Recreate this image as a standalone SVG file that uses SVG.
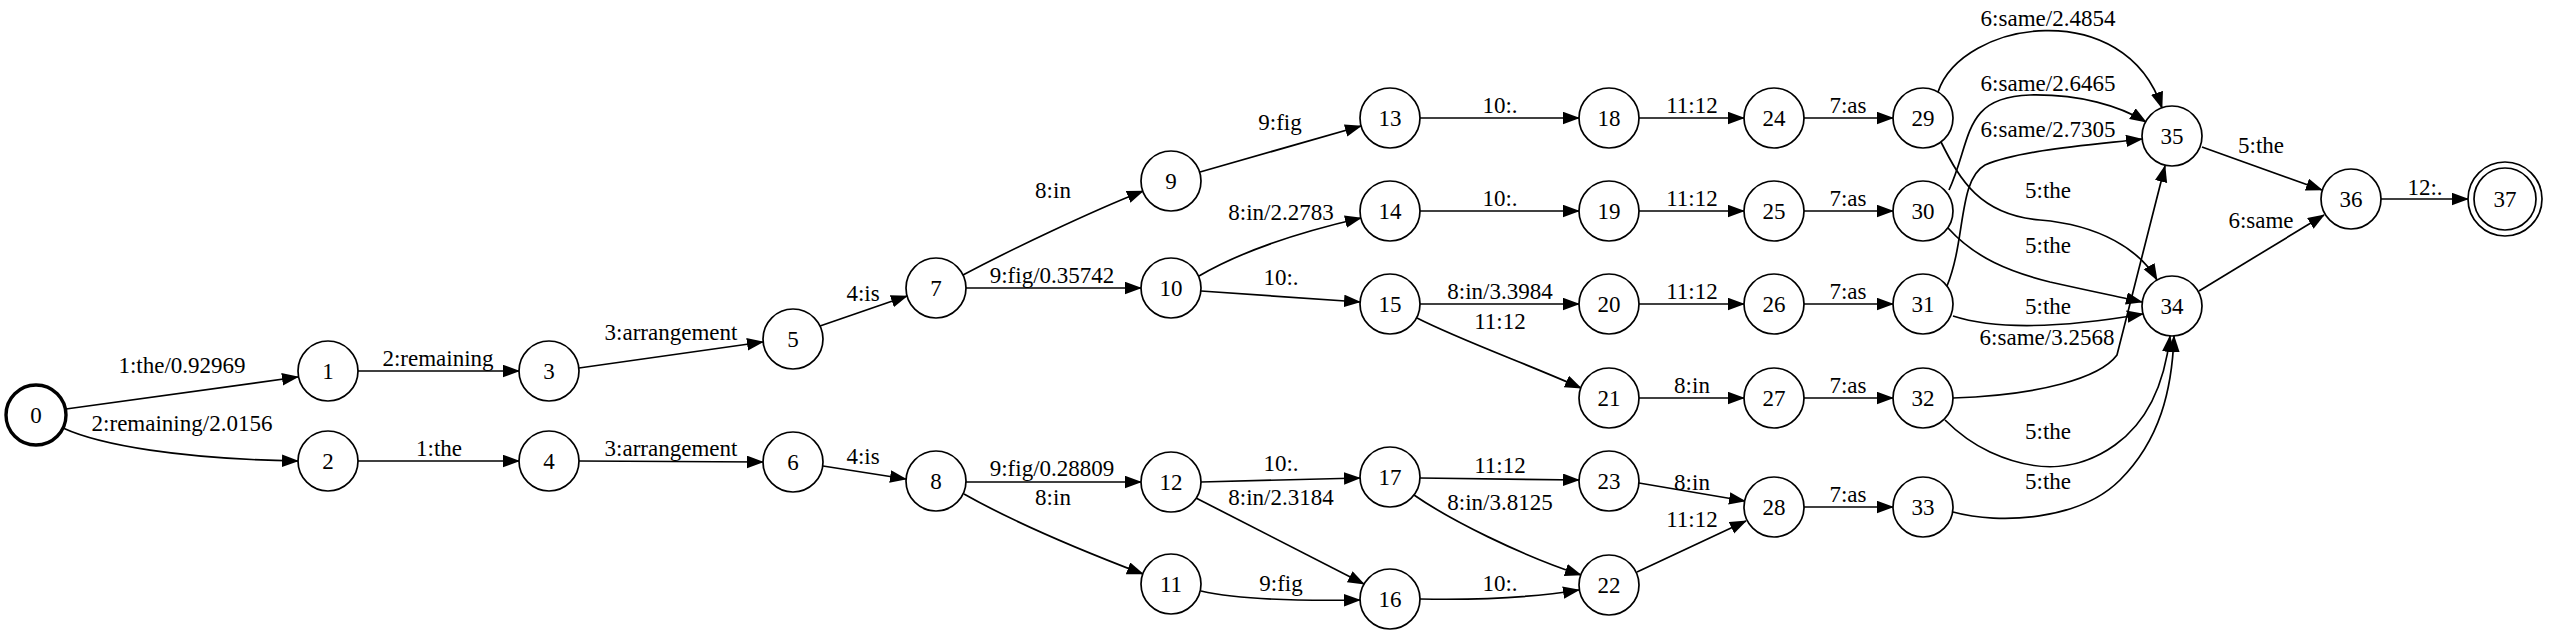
<svg xmlns="http://www.w3.org/2000/svg" width="2550" height="635" viewBox="0 0 2550 635">
<defs>
<marker id="arr" markerWidth="18" markerHeight="13" refX="16" refY="6.25" orient="auto" markerUnits="userSpaceOnUse"><path d="M0,0 L17,6.25 L0,12.5 z" fill="#000"/></marker>
<style>
.n circle{fill:#fff;stroke:#000;stroke-width:1.7}
.n text,.lb text{font-family:"Liberation Serif","Times New Roman",serif;font-size:23px;text-anchor:middle;fill:#000}
.e path{fill:none;stroke:#000;stroke-width:1.7;marker-end:url(#arr)}
</style>
</defs>
<rect width="2550" height="635" fill="#fff"/>
<g id="connectors" class="e">
<path d="M66,409 L298,377"/>
<path d="M63,428 C100,445 180,459 298,461"/>
<path d="M358,371 L519,371"/>
<path d="M358,461 L519,461"/>
<path d="M579,368 L763,342"/>
<path d="M579,461 L763,462"/>
<path d="M820,326 L907,296"/>
<path d="M823,466 L906,479"/>
<path d="M963,275 C1010,250 1090,212 1143,191"/>
<path d="M966,288 L1141,288"/>
<path d="M966,482 L1141,482"/>
<path d="M964,494 C1010,520 1080,550 1143,574"/>
<path d="M1200,172 L1361,126"/>
<path d="M1199,276 C1240,252 1300,232 1361,218"/>
<path d="M1201,291 L1360,302"/>
<path d="M1201,482 L1360,478"/>
<path d="M1196,498 L1364,584"/>
<path d="M1201,591 C1240,600 1300,601 1360,600"/>
<path d="M1420,118 L1579,118"/>
<path d="M1420,211 L1579,211"/>
<path d="M1420,304 L1579,304"/>
<path d="M1417,318 C1460,340 1530,365 1581,388"/>
<path d="M1420,478 L1579,480"/>
<path d="M1414,495 C1450,520 1520,555 1581,575"/>
<path d="M1420,599 C1470,600 1530,598 1579,590"/>
<path d="M1639,118 L1744,118"/>
<path d="M1639,211 L1744,211"/>
<path d="M1639,304 L1744,304"/>
<path d="M1639,398 L1744,398"/>
<path d="M1639,483 L1745,501"/>
<path d="M1637,572 L1746,521"/>
<path d="M1804,118 L1893,118"/>
<path d="M1804,211 L1893,211"/>
<path d="M1804,304 L1893,304"/>
<path d="M1804,398 L1893,398"/>
<path d="M1804,507 L1893,507"/>
<path d="M1938,92 C1962,20 2125,-5 2162,108"/>
<path d="M1949,190 C1972,140 1962,97 2030,95 C2080,94 2120,106 2146,122"/>
<path d="M1947,286 C1966,240 1958,180 1985,165 C2020,150 2090,145 2142,139"/>
<path d="M1941,142 C1960,180 1980,215 2040,220 C2100,225 2140,250 2157,280"/>
<path d="M1948,228 C1975,258 2010,272 2050,282 C2090,291 2120,297 2142,302"/>
<path d="M1953,316 C1990,328 2050,330 2143,314"/>
<path d="M1953,398 C2040,395 2100,378 2117,355 L2165,166"/>
<path d="M1945,420 C1960,435 1975,445 1990,452 C2040,475 2080,470 2115,445 C2150,420 2165,380 2170,336"/>
<path d="M1953,512 C2000,525 2080,520 2120,480 C2160,440 2172,390 2174,336"/>
<path d="M2202,147 L2322,190"/>
<path d="M2199,291 L2324,215"/>
<path d="M2381,199 L2468,199"/>
</g>
<g id="labels" class="lb">
<text x="182" y="373">1:the/0.92969</text>
<text x="182" y="431">2:remaining/2.0156</text>
<text x="438" y="366">2:remaining</text>
<text x="439" y="456">1:the</text>
<text x="671" y="340">3:arrangement</text>
<text x="671" y="456">3:arrangement</text>
<text x="863" y="301">4:is</text>
<text x="863" y="464">4:is</text>
<text x="1053" y="198">8:in</text>
<text x="1052" y="283">9:fig/0.35742</text>
<text x="1052" y="476">9:fig/0.28809</text>
<text x="1053" y="505">8:in</text>
<text x="1280" y="130">9:fig</text>
<text x="1281" y="220">8:in/2.2783</text>
<text x="1281" y="285">10:.</text>
<text x="1281" y="471">10:.</text>
<text x="1281" y="505">8:in/2.3184</text>
<text x="1281" y="591">9:fig</text>
<text x="1500" y="113">10:.</text>
<text x="1500" y="206">10:.</text>
<text x="1500" y="299">8:in/3.3984</text>
<text x="1500" y="329">11:12</text>
<text x="1500" y="473">11:12</text>
<text x="1500" y="510">8:in/3.8125</text>
<text x="1500" y="591">10:.</text>
<text x="1692" y="113">11:12</text>
<text x="1692" y="206">11:12</text>
<text x="1692" y="299">11:12</text>
<text x="1692" y="393">8:in</text>
<text x="1692" y="490">8:in</text>
<text x="1692" y="527">11:12</text>
<text x="1848" y="113">7:as</text>
<text x="1848" y="206">7:as</text>
<text x="1848" y="299">7:as</text>
<text x="1848" y="393">7:as</text>
<text x="1848" y="502">7:as</text>
<text x="2048" y="26">6:same/2.4854</text>
<text x="2048" y="91">6:same/2.6465</text>
<text x="2048" y="137">6:same/2.7305</text>
<text x="2048" y="198">5:the</text>
<text x="2048" y="253">5:the</text>
<text x="2048" y="314">5:the</text>
<text x="2047" y="345">6:same/3.2568</text>
<text x="2048" y="439">5:the</text>
<text x="2048" y="489">5:the</text>
<text x="2261" y="153">5:the</text>
<text x="2261" y="228">6:same</text>
<text x="2425" y="195">12:.</text>
</g>
<g id="node0" class="n"><circle cx="36" cy="415" r="30" style="stroke-width:3.4"/><text x="36" y="423">0</text></g>
<g id="node1" class="n"><circle cx="328" cy="371" r="30"/><text x="328" y="379">1</text></g>
<g id="node2" class="n"><circle cx="328" cy="461" r="30"/><text x="328" y="469">2</text></g>
<g id="node3" class="n"><circle cx="549" cy="371" r="30"/><text x="549" y="379">3</text></g>
<g id="node4" class="n"><circle cx="549" cy="461" r="30"/><text x="549" y="469">4</text></g>
<g id="node5" class="n"><circle cx="793" cy="339" r="30"/><text x="793" y="347">5</text></g>
<g id="node6" class="n"><circle cx="793" cy="462" r="30"/><text x="793" y="470">6</text></g>
<g id="node7" class="n"><circle cx="936" cy="288" r="30"/><text x="936" y="296">7</text></g>
<g id="node8" class="n"><circle cx="936" cy="481" r="30"/><text x="936" y="489">8</text></g>
<g id="node9" class="n"><circle cx="1171" cy="181" r="30"/><text x="1171" y="189">9</text></g>
<g id="node10" class="n"><circle cx="1171" cy="288" r="30"/><text x="1171" y="296">10</text></g>
<g id="node11" class="n"><circle cx="1171" cy="584" r="30"/><text x="1171" y="592">11</text></g>
<g id="node12" class="n"><circle cx="1171" cy="482" r="30"/><text x="1171" y="490">12</text></g>
<g id="node13" class="n"><circle cx="1390" cy="118" r="30"/><text x="1390" y="126">13</text></g>
<g id="node14" class="n"><circle cx="1390" cy="211" r="30"/><text x="1390" y="219">14</text></g>
<g id="node15" class="n"><circle cx="1390" cy="304" r="30"/><text x="1390" y="312">15</text></g>
<g id="node16" class="n"><circle cx="1390" cy="599" r="30"/><text x="1390" y="607">16</text></g>
<g id="node17" class="n"><circle cx="1390" cy="477" r="30"/><text x="1390" y="485">17</text></g>
<g id="node18" class="n"><circle cx="1609" cy="118" r="30"/><text x="1609" y="126">18</text></g>
<g id="node19" class="n"><circle cx="1609" cy="211" r="30"/><text x="1609" y="219">19</text></g>
<g id="node20" class="n"><circle cx="1609" cy="304" r="30"/><text x="1609" y="312">20</text></g>
<g id="node21" class="n"><circle cx="1609" cy="398" r="30"/><text x="1609" y="406">21</text></g>
<g id="node22" class="n"><circle cx="1609" cy="585" r="30"/><text x="1609" y="593">22</text></g>
<g id="node23" class="n"><circle cx="1609" cy="481" r="30"/><text x="1609" y="489">23</text></g>
<g id="node24" class="n"><circle cx="1774" cy="118" r="30"/><text x="1774" y="126">24</text></g>
<g id="node25" class="n"><circle cx="1774" cy="211" r="30"/><text x="1774" y="219">25</text></g>
<g id="node26" class="n"><circle cx="1774" cy="304" r="30"/><text x="1774" y="312">26</text></g>
<g id="node27" class="n"><circle cx="1774" cy="398" r="30"/><text x="1774" y="406">27</text></g>
<g id="node28" class="n"><circle cx="1774" cy="507" r="30"/><text x="1774" y="515">28</text></g>
<g id="node29" class="n"><circle cx="1923" cy="118" r="30"/><text x="1923" y="126">29</text></g>
<g id="node30" class="n"><circle cx="1923" cy="211" r="30"/><text x="1923" y="219">30</text></g>
<g id="node31" class="n"><circle cx="1923" cy="304" r="30"/><text x="1923" y="312">31</text></g>
<g id="node32" class="n"><circle cx="1923" cy="398" r="30"/><text x="1923" y="406">32</text></g>
<g id="node33" class="n"><circle cx="1923" cy="507" r="30"/><text x="1923" y="515">33</text></g>
<g id="node34" class="n"><circle cx="2172" cy="306" r="30"/><text x="2172" y="314">34</text></g>
<g id="node35" class="n"><circle cx="2172" cy="136" r="30"/><text x="2172" y="144">35</text></g>
<g id="node36" class="n"><circle cx="2351" cy="199" r="30"/><text x="2351" y="207">36</text></g>
<g id="node37" class="n"><circle cx="2505" cy="199" r="37"/><circle cx="2505" cy="199" r="31"/><text x="2505" y="207">37</text></g>
</svg>
